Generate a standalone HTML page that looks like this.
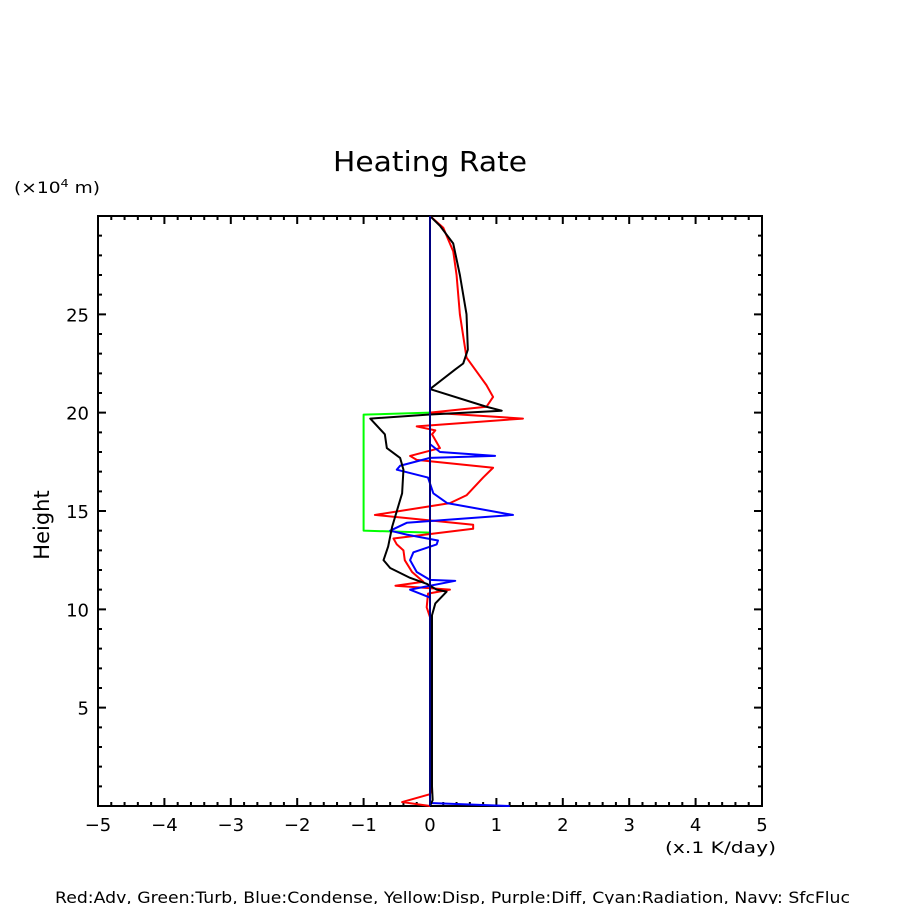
<!DOCTYPE html>
<html><head><meta charset="utf-8"><style>
body{margin:0;background:#fff;}
svg text{font-family:"DejaVu Sans","Liberation Sans",sans-serif;fill:#000;}
</style></head><body>
<svg id="chart" width="904" height="904" viewBox="0 0 904 904" xmlns="http://www.w3.org/2000/svg">
<rect width="904" height="904" fill="#fff"/>
<text x="333" y="171" font-size="28" textLength="194" lengthAdjust="spacingAndGlyphs">Heating Rate</text>
<text x="14" y="193" font-size="16" textLength="86" lengthAdjust="spacingAndGlyphs">(×10<tspan font-size="11" dy="-6">4</tspan><tspan dy="6"> m)</tspan></text>
<text transform="translate(49,525) rotate(-90)" font-size="21" text-anchor="middle">Height</text>
<text x="665" y="853" font-size="16" textLength="111" lengthAdjust="spacingAndGlyphs">(x.1 K/day)</text>
<text x="55" y="903" font-size="16" textLength="795" lengthAdjust="spacingAndGlyphs">Red:Adv, Green:Turb, Blue:Condense, Yellow:Disp, Purple:Diff, Cyan:Radiation, Navy: SfcFluc</text>
<g id="axes"></g>
<g id="series"></g>
</svg>
<script>
const xTicks=[-5,-4,-3,-2,-1,0,1,2,3,4,5];
const yTicks=[5,10,15,20,25];
const blackX=[0,0.15,0.35,0.45,0.55,0.57,0.5,0.38,0,0.85,1.08,-0.03,-0.9,-0.68,-0.65,-0.45,-0.4,-0.42,-0.57,-0.63,-0.7,-0.6,-0.3,-0.05,0.1,0.25,0.08,0.03,0.03,0.04,0];
const blackH=[30,29.5,28.6,27,25,23.2,22.5,22.2,21.2,20.3,20.1,19.9,19.7,18.9,18.2,17.7,17.1,15.9,14.2,13.2,12.5,12.1,11.6,11.3,11.0,10.9,10.3,9.7,1,0.3,0];
const redX=[0,0.2,0.35,0.4,0.45,0.55,0.85,0.95,0.85,0,1.4,-0.2,0.08,0.03,0.15,-0.3,-0.2,0.95,0.8,0.55,0.3,-0.83,0.65,0.65,-0.55,-0.5,-0.4,-0.38,-0.27,-0.1,-0.52,0.3,-0.03,-0.05,0,0.03,0,-0.42,0];
const redH=[30,29.4,28.2,27,25,22.8,21.4,20.8,20.3,20.0,19.7,19.3,19.1,18.9,18.2,17.8,17.6,17.2,16.7,15.8,15.4,14.8,14.3,14.1,13.6,13.3,13.0,12.5,11.9,11.4,11.2,11.0,10.8,10.1,9.6,1,0.6,0.2,0];
const blueX=[0,0,0,0.15,0.98,0,-0.45,-0.5,-0.03,0.05,0.26,1.25,-0.35,-0.6,-0.35,0.12,0.1,-0.25,-0.3,-0.2,0,0.38,-0.3,0,0,0,1.2];
const blueH=[30,18.8,18.4,18.0,17.8,17.7,17.3,17.1,16.7,15.9,15.4,14.8,14.4,14.0,13.8,13.5,13.3,12.9,12.5,11.9,11.5,11.45,11.0,10.6,0.3,0.15,0];
const greenX=[0,-1,-1,0];
const greenH=[20,19.9,14.0,13.9];
const navyX=[0,0];
const navyH=[0,30];
const L=98,R=762,T=216,B=806;
const xs=v=>L+(v+5)/10*(R-L);
const ys=v=>B-v/30*(B-T);
const NS='http://www.w3.org/2000/svg';
const axes=document.getElementById('axes'),ser=document.getElementById('series');
function mk(tag,attrs,parent){const e=document.createElementNS(NS,tag);for(const k in attrs)e.setAttribute(k,attrs[k]);parent.appendChild(e);return e;}
let d='';
for(let i=0;i<=50;i++){const v=-5+i*0.2;const x=xs(v);const len=(i%5===0)?8:4;d+=`M${x},${B}v${-len}M${x},${T}v${len}`;}
for(let v=1;v<30;v++){const y=ys(v);const len=(v%5===0)?8:4;d+=`M${L},${y}h${len}M${R},${y}h${-len}`;}
const tk=mk('path',{d:d,stroke:'#000','stroke-width':2,fill:'none'},axes);


const fr=mk('rect',{x:L,y:T,width:R-L,height:B-T,fill:'none',stroke:'#000','stroke-width':2},axes);


xTicks.forEach(v=>{const t=mk('text',{x:xs(v),y:831,'font-size':18,'text-anchor':'middle'},axes);t.textContent=v<0?'\u2212'+(-v):String(v);

});
yTicks.forEach(v=>{const t=mk('text',{x:89,y:ys(v)+7,'font-size':18,'text-anchor':'end'},axes);t.textContent=String(v);

});
function line(X,H,color,name){const p=mk('polyline',{points:X.map((x,i)=>xs(x)+','+ys(H[i])).join(' '),fill:'none',stroke:color,'stroke-width':2,'stroke-linejoin':'round'},ser);

}
line(greenX,greenH,'#00ff00','turb-line');
line(redX,redH,'#ff0000','adv-line');
line(blueX,blueH,'#0000ff','condense-line');
line(blackX,blackH,'#000000','total-line');
line(navyX,navyH,'#000080','sfcfluc-line');
</script>
</body></html>
